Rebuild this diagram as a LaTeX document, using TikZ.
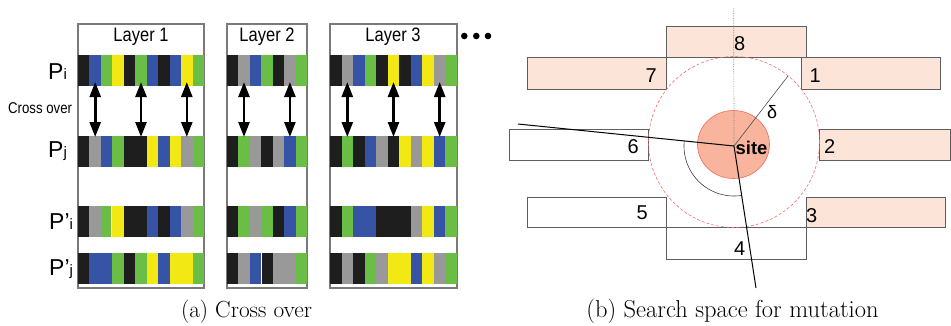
\documentclass[tikz,border=0pt]{standalone}
\usepackage{fontspec}
\usepackage{graphicx}
\newfontfamily\arialfont{Liberation Sans}
\usetikzlibrary{arrows.meta,calc}
\definecolor{cK}{HTML}{1E1E1E}
\definecolor{cB}{HTML}{3653A5}
\definecolor{cG}{HTML}{6ABD45}
\definecolor{cY}{HTML}{F2E814}
\definecolor{cA}{HTML}{999999}
\definecolor{peach}{HTML}{FCE4D8}
\definecolor{sitefill}{HTML}{F8B49C}
\definecolor{siteedge}{HTML}{EE6A5E}
\definecolor{dashred}{HTML}{F07070}
\definecolor{boxedge}{HTML}{5E5E5E}
\definecolor{layeredge}{HTML}{7A7A7A}
\newcommand{\generow}[4]{%
  \foreach \cc [count=\ii from 0] in {#4} {\fill[\cc] ({#1+\ii*#2},{#3}) rectangle ({#1+(\ii+1)*#2},{#3+31});}%
}
\begin{document}
\begin{tikzpicture}[x=1pt,y=-1pt,
  layerbox/.style={draw=layeredge, line width=1.3pt},
  layertxt/.style={anchor=base, inner sep=0pt, font=\arialfont\fontsize{16.5}{18}\selectfont},
  plab/.style={anchor=base west, inner sep=0pt, font=\arialfont\fontsize{23}{26}\selectfont},
  xarrow/.style={{Triangle[length=15pt,width=11pt]}-{Triangle[length=15pt,width=11pt]}, line width=2.6pt, black},
  nbox/.style={draw=boxedge, line width=0.9pt},
  nfill/.style={nbox, fill=peach},
  numlab/.style={inner sep=0pt, font=\arialfont\fontsize{20}{22}\selectfont},
  captxt/.style={anchor=base, inner sep=0pt}]
\useasboundingbox (0,0) rectangle (951,325);

% ---------- (a) Cross over ----------
\draw[layerbox] (78,24) rectangle (204,288);
\draw[layerbox] (227,24) rectangle (307,288);
\draw[layerbox] (330,24) rectangle (457,288);

\node[layertxt] (t1) at (141,41.7) {\scalebox{1}[1.18]{Layer 1}};
\node[layertxt] (t2) at (267,41.7) {\scalebox{1}[1.18]{Layer 2}};
\node[layertxt] (t3) at (393,41.7) {\scalebox{1}[1.18]{Layer 3}};

% Layer 1
\generow{78}{11.4545}{55}{cK,cB,cG,cY,cK,cG,cB,cK,cB,cY,cG}
\generow{78}{11.4545}{136}{cK,cA,cB,cG,cK,cK,cY,cB,cY,cA,cG}
\generow{78}{11.4545}{206}{cK,cA,cG,cY,cK,cK,cB,cK,cB,cA,cG}
\generow{78}{11.4545}{253}{cK,cB,cB,cG,cK,cG,cY,cB,cY,cY,cG}
% Layer 2
\generow{227}{11.4286}{55}{cK,cA,cB,cG,cK,cA,cG}
\generow{227}{11.4286}{136}{cK,cG,cA,cK,cA,cB,cG}
\generow{227}{11.4286}{206}{cK,cG,cA,cG,cK,cB,cG}
\generow{227}{11.4286}{253}{cK,cA,cB,cK,cA,cA,cG}
% Layer 3
\generow{330}{11.5455}{55}{cK,cA,cB,cG,cK,cY,cK,cB,cY,cA,cG}
\generow{330}{11.5455}{136}{cK,cG,cK,cB,cA,cK,cY,cA,cY,cB,cG}
\generow{330}{11.5455}{206}{cK,cG,cB,cB,cK,cK,cK,cA,cY,cB,cG}
\generow{330}{11.5455}{253}{cK,cA,cK,cG,cA,cY,cY,cB,cY,cA,cG}
% small white gaps
\fill[white] (110.6,206) rectangle (111.8,237);
\fill[white] (260.8,253) rectangle (262,284);

% crossover arrows
\foreach \ax [count=\k] in {95.2,141,186.8,244,289.9,347.3,393.5,439.7} {
  \coordinate (ua\k) at (\ax,82);
  \coordinate (la\k) at (\ax,137);
  \draw[xarrow] (ua\k) -- (la\k);
}

% dots
\fill (464.3,36) circle (3.3pt);
\fill (476.3,36) circle (3.3pt);
\fill (488,36) circle (3.3pt);

% row labels
\node[plab] (pi) at (48,79) {P{\fontsize{15}{15}\selectfont i}};
\node[anchor=base west, inner sep=0pt, font=\arialfont\fontsize{13.2}{15}\selectfont] (co) at (8,113.3) {\scalebox{1}[1.18]{Cross over}};
\node[plab] (pj) at (48,157) {P{\fontsize{15}{15}\selectfont j}};
\node[plab] (ppi) at (49,229) {P’{\fontsize{15}{15}\selectfont i}};
\node[plab] (ppj) at (49,275) {P’{\fontsize{15}{15}\selectfont j}};

\node[captxt, font=\fontsize{23.3}{28}\selectfont] (capa) at (246.5,317) {(a) Cross over};

% ---------- (b) Search space ----------
\draw[nfill] (666,26) rectangle (806,57);
\draw[nfill] (527,57) rectangle (666,89);
\draw[nfill] (801,57) rectangle (940,89);
\draw[nbox, fill=white] (509,129) rectangle (648,160);
\draw[nfill] (819,129) rectangle (950.5,160);
\draw[nbox, fill=white] (527,197) rectangle (666,227);
\draw[nfill] (806,197) rectangle (945,227);
\draw[nbox, fill=white] (666,227) rectangle (806,259);

\node[numlab, anchor=base west] (n8) at (734,50) {8};
\node[numlab, anchor=base east] (n7) at (657,82) {7};
\node[numlab, anchor=base west] (n1) at (809.5,82) {1};
\node[numlab, anchor=base east] (n6) at (639,153) {6};
\node[numlab, anchor=base west] (n2) at (824,153) {2};
\node[numlab, anchor=base east] (n5) at (648,219.5) {5};
\node[numlab, anchor=base west] (n3) at (806,222.7) {3};
\node[numlab, anchor=base west] (n4) at (734,255) {4};

\coordinate (C) at (734,146);
\coordinate (vt) at (733.7,8);
\coordinate (Lend) at (518,124);
\coordinate (Bend) at (756,288);
\coordinate (D) at (788,76);

\draw[dashred, densely dashed, line width=0.6pt] (734,142) circle (85.5pt);
\draw[siteedge, fill=sitefill, line width=0.6pt] (733.5,144.5) ellipse (36pt and 34pt);
\draw[gray, densely dotted, line width=0.7pt] (vt) -- (C);
\draw[black!75, line width=0.6pt] plot[domain=174.5:279, samples=50] ({734+50*cos(\x)}, {146-50*sin(\x)});
\draw[black, line width=1pt] (Lend) -- (C) -- (Bend);
\draw[black!70, line width=0.6pt] (C) -- (D);

\node[anchor=base west, inner sep=0pt, font=\arialfont\bfseries\fontsize{18.4}{20}\selectfont] (site) at (735.5,154) {site};
\node[anchor=base west, inner sep=0pt, font=\arialfont\fontsize{18}{20}\selectfont] (delta) at (767,118.3) {δ};

\node[captxt, font=\fontsize{24.5}{28}\selectfont] (capb) at (732.5,317) {(b) Search space for mutation};
\end{tikzpicture}
\end{document}
